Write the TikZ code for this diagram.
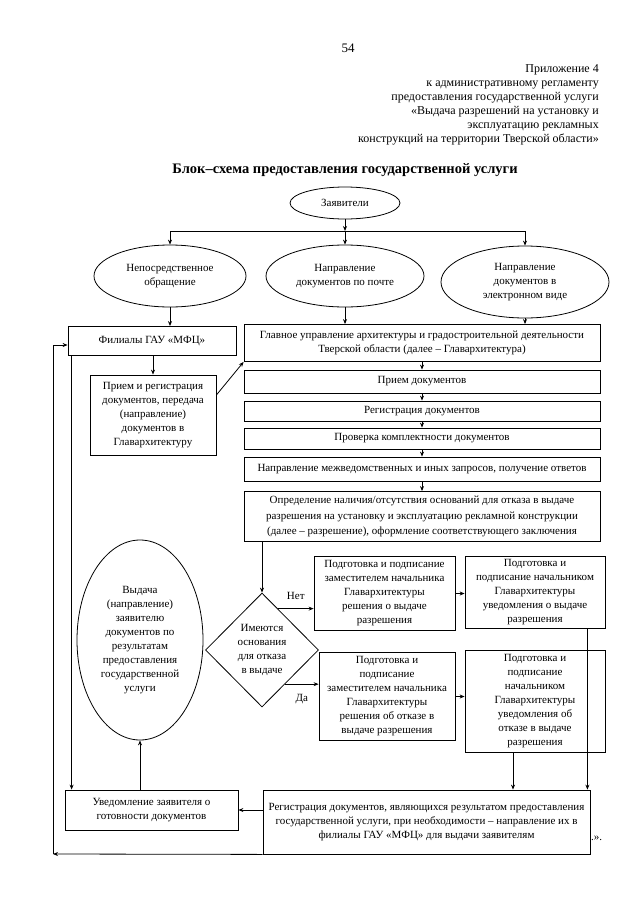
\documentclass[tikz,border=0pt]{standalone}
\usepackage{fontspec}
\setmainfont{Liberation Serif}
\usetikzlibrary{shapes.geometric, arrows.meta, positioning}

\begin{document}
\begin{tikzpicture}[
    x=1pt, y=-1pt,
    font=\fontsize{11}{14}\selectfont,
    block/.style={rectangle, draw, align=center, inner sep=2pt, line width=0.8pt},
    oval/.style={ellipse, draw, align=center, inner sep=0pt, line width=0.8pt},
    decision/.style={diamond, draw, align=center, inner sep=0pt, line width=0.8pt},
    arrow/.style={line width=0.8pt, -{Stealth[length=5pt,width=4pt]}},
    line/.style={line width=0.8pt}
]
\useasboundingbox (0,0) rectangle (640,905);

% header
\node (nomer) at (348,48) {\fontsize{13}{15}\selectfont 54};
\node (prilozh) [anchor=north east, align=right, inner sep=0pt, font=\fontsize{12}{14}\selectfont] at (599,64) {Приложение 4\\к административному регламенту\\предоставления государственной услуги\\«Выдача разрешений на установку и\\эксплуатацию рекламных\\конструкций на территории Тверской области»};
\node (title) at (345,170) {\bfseries\fontsize{14.5}{16}\selectfont Блок–схема предоставления государственной услуги};

% applicants
\node (zayav) [oval, minimum width=110, minimum height=32] at (345,203) {Заявители};
\node (obr) [oval, minimum width=152, minimum height=62] at (170,276) {Непосредственное\\обращение};
\node (pochta) [oval, minimum width=158, minimum height=62] at (345,276) {Направление\\документов по почте};
\node (elektr) [oval, minimum width=168, minimum height=72] at (525,282) {Направление\\документов в\\электронном виде};

% left column
\node (filial) [block, minimum width=168, minimum height=29] at (152,341) {Филиалы ГАУ «МФЦ»};
\node (priemreg) [block, minimum width=126, minimum height=80] at (153,415) {Прием и регистрация\\документов, передача\\(направление)\\документов в\\Главархитектуру};

% right column
\node (glavarh) [block, minimum width=356, minimum height=37] at (422,343) {Главное управление архитектуры и градостроительной деятельности\\Тверской области (далее – Главархитектура)};
\node (priem) [block, minimum width=356, minimum height=23] at (422,381.5) {Прием документов};
\node (reg) [block, minimum width=356, minimum height=20] at (422,411) {Регистрация документов};
\node (prov) [block, minimum width=356, minimum height=21] at (422,438.5) {Проверка комплектности документов};
\node (mezh) [block, minimum width=356, minimum height=24] at (422,469) {Направление межведомственных и иных запросов, получение ответов};
\node (opred) [block, minimum width=356, minimum height=50, font=\fontsize{11}{15.5}\selectfont] at (422,516.5) {Определение наличия/отсутствия оснований для отказа в выдаче\\разрешения на установку и эксплуатацию рекламной конструкции\\(далее – разрешение), оформление соответствующего заключения};

% decision
\node (rombus) [decision, minimum width=113, minimum height=114] at (262,650) {Имеются\\основания\\для отказа\\в выдаче};
\node (podpvyd) [block, minimum width=141, minimum height=74] at (384.5,593.5) {Подготовка и подписание\\заместителем начальника\\Главархитектуры\\решения о выдаче\\разрешения};
\node (uvedvyd) [block, minimum width=140, minimum height=72] at (535,592.5) {Подготовка и\\подписание начальником\\Главархитектуры\\уведомления о выдаче\\разрешения};
\node (podpotk) [block, minimum width=136, minimum height=88] at (387,696.5) {Подготовка и\\подписание\\заместителем начальника\\Главархитектуры\\решения об отказе в\\выдаче разрешения};
\node (uvedotk) [block, minimum width=140, minimum height=102] at (535,701.5) {Подготовка и\\подписание\\начальником\\Главархитектуры\\уведомления об\\отказе в выдаче\\разрешения};

% result
\node (vydacha) [oval, minimum width=126, minimum height=200] at (140,640) {Выдача\\(направление)\\заявителю\\документов по\\результатам\\предоставления\\государственной\\услуги};
\node (itog) [block, minimum width=327, minimum height=64] at (426.5,822) {Регистрация документов, являющихся результатом предоставления\\государственной услуги, при необходимости – направление их в\\филиалы ГАУ «МФЦ» для выдачи заявителям};
\node (kav) [anchor=west, inner sep=0pt] at (591,838) {.».};
\node (uved) [block, minimum width=173, minimum height=40] at (151.5,810) {Уведомление заявителя о\\готовности документов};

\coordinate (razv) at (345,231);
\coordinate (ugol) at (53,854);

\draw[arrow] (zayav) -- (razv);
\draw[line] (razv -| obr) -- (razv -| elektr);
\draw[arrow] (razv -| obr) -- (obr);
\draw[arrow] (razv) -- (pochta);
\draw[arrow] (razv -| elektr) -- (elektr);

\draw[arrow] (obr.south) -- (obr.south |- filial.north);
\draw[arrow] (pochta.south) -- (pochta.south |- glavarh.north);
\draw[arrow] (elektr.south) -- (elektr.south |- glavarh.north);

\draw[arrow] (filial.south -| priemreg.north) -- (priemreg.north);
\draw[arrow] ([yshift=20pt]priemreg.east) -- (glavarh.south west);

\draw[arrow] (glavarh) -- (priem);
\draw[arrow] (priem) -- (reg);
\draw[arrow] (reg) -- (prov);
\draw[arrow] (prov) -- (mezh);
\draw[arrow] (mezh) -- (opred);
\draw[arrow] (opred.south -| rombus.north) -- (rombus.north);

\draw[arrow] (rombus.69) -- (rombus.69 -| podpvyd.west) node (net) [midway, above=5pt] {Нет};
\draw[arrow] (rombus.-56) -- (rombus.-56 -| podpotk.west) node (da) [midway, below=6pt] {Да};
\draw[arrow] (podpvyd.east) -- (uvedvyd.west |- podpvyd.east);
\draw[arrow] (podpotk.east) -- (uvedotk.west |- podpotk.east);

\draw[arrow] ([xshift=-22pt]uvedotk.south) -- ([xshift=-22pt]uvedotk.south |- itog.north);
\draw[arrow] ([xshift=-3pt]itog.north east |- uvedvyd.south) -- ([xshift=-3pt]itog.north east);

\draw[arrow] (itog.west |- uved.east) -- (uved.east);
\draw[arrow] (uved.north -| vydacha.south) -- (vydacha.south);
\draw[arrow] ([xshift=4pt]filial.south west) -- ([xshift=4pt]filial.south west |- uved.north);

\draw[arrow] (itog.south west) -- (ugol);
\draw[arrow] (ugol) |- ([yshift=-4pt]filial.west);

\end{tikzpicture}
\end{document}
